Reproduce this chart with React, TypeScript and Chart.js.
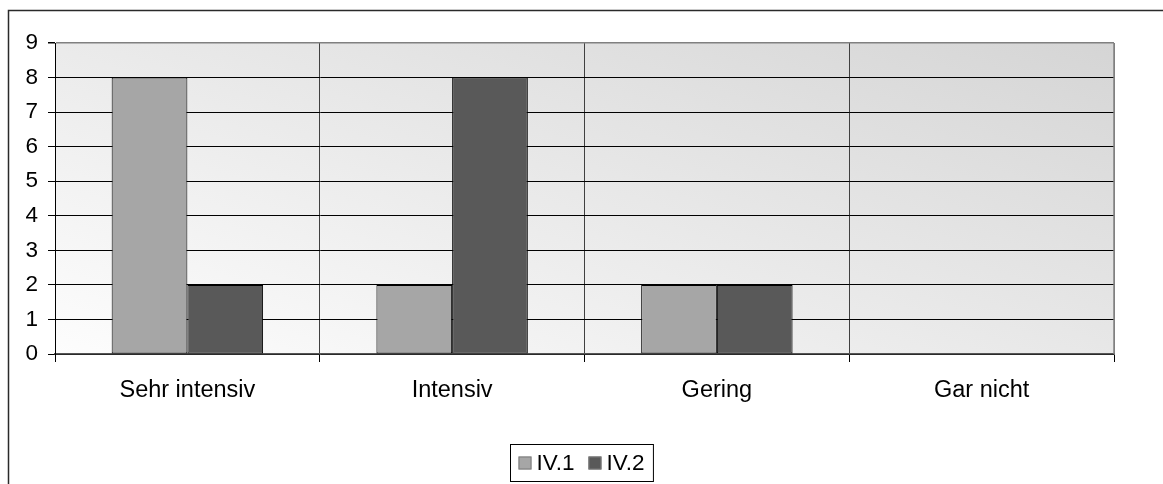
import React, { useEffect, useRef } from "react";
import { Chart, registerables } from "chart.js";

Chart.register(...registerables);

const categories = ["Sehr intensiv", "Intensiv", "Gering", "Gar nicht"];
const seriesNames = ["IV.1", "IV.2"];
const iv1Values = [8, 2, 2, 0];
const iv2Values = [2, 8, 2, 0];
const seriesColors = ["#a6a6a6", "#595959"];
const yTicks = [0, 1, 2, 3, 4, 5, 6, 7, 8, 9];

const FONT = "'Liberation Sans', Arial, sans-serif";

const framePlugin = {
  id: "framePlugin",
  beforeDraw(chart: any) {
    const { ctx, chartArea, width, height } = chart;
    ctx.save();
    ctx.fillStyle = "#ffffff";
    ctx.fillRect(0, 0, width, height);
    ctx.strokeStyle = "#2a2a2a";
    ctx.lineWidth = 1.5;
    ctx.beginPath();
    ctx.moveTo(8.5, height + 2);
    ctx.lineTo(8.5, 10.5);
    ctx.lineTo(width + 2, 10.5);
    ctx.stroke();
    const { left, right, top, bottom } = chartArea;
    const g = ctx.createLinearGradient(left, bottom, left + 209, bottom - 605);
    g.addColorStop(0, "#fdfdfd");
    g.addColorStop(1, "#d5d5d5");
    ctx.fillStyle = g;
    ctx.fillRect(left, top, right - left, bottom - top);
    ctx.restore();
  },
  afterDraw(chart: any) {
    const { ctx, chartArea, width } = chart;
    const { right, top, bottom } = chartArea;
    ctx.save();
    ctx.strokeStyle = "#808080";
    ctx.lineWidth = 1.5;
    ctx.beginPath();
    ctx.moveTo(right, bottom);
    ctx.lineTo(right, top);
    ctx.stroke();
    // legend
    const fontSize = 22.5;
    ctx.font = `${fontSize}px ${FONT}`;
    ctx.textBaseline = "middle";
    const box = 13;
    const items = chart.data.datasets.map((d: any) => ({
      label: d.label,
      color: d.backgroundColor,
      w: ctx.measureText(d.label).width,
    }));
    const padL = 8, gapBox = 5, gapItem = 14, padR = 9;
    let total = padL + padR;
    items.forEach((it: any, i: number) => {
      total += box + gapBox + it.w + (i > 0 ? gapItem : 0);
    });
    const lx = Math.round(width / 2 - total / 2) + 0.5;
    const ly = 444.5;
    const lh = 37;
    ctx.strokeStyle = "#000";
    ctx.lineWidth = 1;
    ctx.strokeRect(lx, ly, total, lh);
    let x = lx + padL;
    const cy = ly + lh / 2;
    items.forEach((it: any, i: number) => {
      if (i > 0) x += gapItem;
      ctx.fillStyle = it.color;
      ctx.fillRect(x, cy - box / 2, box, box);
      ctx.strokeStyle = "#7a7a7a";
      ctx.strokeRect(x + 0.5, cy - box / 2 + 0.5, box - 1, box - 1);
      x += box + gapBox;
      ctx.fillStyle = "#000";
      ctx.textAlign = "left";
      ctx.fillText(it.label, x, cy + 1);
      x += it.w;
    });
    ctx.restore();
  },
};

export default function App() {
  const ref = useRef<HTMLCanvasElement>(null);
  useEffect(() => {
    if (!ref.current) return;
    const chart = new Chart(ref.current, {
      type: "bar",
      data: {
        labels: categories,
        datasets: [
          {
            label: seriesNames[0],
            data: iv1Values,
            backgroundColor: seriesColors[0],
            borderColor: "#000",
            borderWidth: 1,
            borderSkipped: false,
          },
          {
            label: seriesNames[1],
            data: iv2Values,
            backgroundColor: seriesColors[1],
            borderColor: "#000",
            borderWidth: 1,
            borderSkipped: false,
          },
        ],
      },
      options: {
        responsive: false,
        animation: false,
        devicePixelRatio: 1,
        layout: { padding: { top: 43, right: 49, left: 0, bottom: 0 } },
        datasets: { bar: { categoryPercentage: 0.572, barPercentage: 1 } },
        plugins: { legend: { display: false }, tooltip: { enabled: false } },
        scales: {
          x: {
            offset: true,
            afterFit: (s: any) => {
              s.height = 130;
            },
            grid: {
              offset: true,
              color: (c: any) => (c.index === 0 ? "#000" : c.tick ? "#404040" : "#808080"),
              tickColor: "#000",
              tickLength: 8,
              lineWidth: 1,
            },
            border: { color: "#555", width: 1.5 },
            ticks: {
              color: "#000",
              font: { family: FONT, size: 23.5 },
              padding: 14,
              maxRotation: 0,
            },
          },
          y: {
            min: 0,
            max: 9,
            afterFit: (s: any) => {
              s.width = 55;
            },
            afterBuildTicks: (s: any) => {
              s.ticks = yTicks.map((v) => ({ value: v }));
            },
            grid: {
              color: (c: any) => (c.tick && c.tick.value === 9 ? "#808080" : "#000"),
              tickColor: "#000",
              tickLength: 7,
              lineWidth: (c: any) => (c.tick && c.tick.value === 9 ? 1.5 : 1),
            },
            border: { color: "#000", width: 1 },
            ticks: {
              color: "#000",
              font: { family: FONT, size: 22.5 },
              padding: 10,
            },
          },
        },
      },
      plugins: [framePlugin],
    });
    return () => chart.destroy();
  }, []);
  return (
    <div style={{ position: "absolute", left: 0, top: 0, width: 1163, height: 484 }}>
      <canvas ref={ref} width={1163} height={484} />
    </div>
  );
}
